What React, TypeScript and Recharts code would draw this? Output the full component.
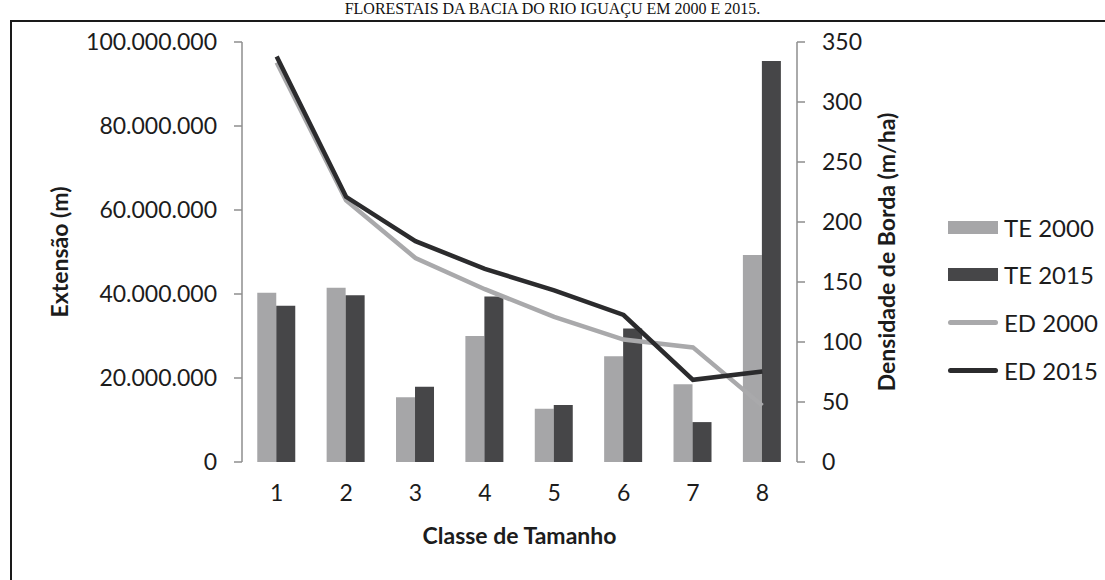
import React from "react";
import {
  ComposedChart, Bar, Line, XAxis, YAxis,
} from "recharts";

const classes = ["1", "2", "3", "4", "5", "6", "7", "8"];
const te2000 = [40300000, 41500000, 15400000, 30000000, 12700000, 25200000, 18500000, 49300000];
const te2015 = [37200000, 39700000, 17900000, 39400000, 13600000, 31800000, 9500000, 95500000];
const ed2000 = [333, 218, 170, 144, 121, 102, 95.5, 47];
const ed2015 = [338, 221, 184, 161, 143, 122.5, 68.5, 75.5];

const leftTicks = [0, 20000000, 40000000, 60000000, 80000000, 100000000];
const rightTicks = [0, 50, 100, 150, 200, 250, 300, 350];
const boundaryTicks = [0, 1, 2, 3, 4, 5, 6, 7, 8];

const LIGHT = "#a6a6a8";
const DARK = "#464648";
const LINE_LIGHT = "#a9a9ab";
const LINE_DARK = "#2b2b2d";
const AXIS = "#8e8e8e";
const FONT = "Lato, 'Open Sans', sans-serif";

const data = classes.map((c, i) => ({
  name: c,
  te2000: te2000[i],
  te2015: te2015[i],
  ed2000: ed2000[i],
  ed2015: ed2015[i],
}));

const fmt = (n: number) => String(n).replace(/\B(?=(\d{3})+(?!\d))/g, ".");

const legendItems = [
  { label: "TE 2000", color: LIGHT, kind: "bar" },
  { label: "TE 2015", color: DARK, kind: "bar" },
  { label: "ED 2000", color: LINE_LIGHT, kind: "line" },
  { label: "ED 2015", color: LINE_DARK, kind: "line" },
];

export default function App() {
  const tick = { fontSize: 23, fill: "#1c1c1c", fontFamily: FONT };
  const title = { fontSize: 23, fontWeight: 700, fill: "#1c1c1c", fontFamily: FONT };

  return (
    <div style={{ position: "absolute", left: 0, top: 0, width: 1105, height: 580, overflow: "hidden", background: "#fff" }}>
      <div
        style={{
          position: "absolute", left: 0, top: 1, width: 1105, textAlign: "center",
          fontFamily: "'Liberation Serif', serif", fontSize: 16, lineHeight: 1, color: "#111",
        }}
      >
        FLORESTAIS DA BACIA DO RIO IGUAÇU EM 2000 E 2015.
      </div>
      <div
        style={{
          position: "absolute", left: 10, top: 20, width: 1120, height: 600,
          border: "2px solid #1a1a1a", boxSizing: "border-box",
        }}
      />
      <div style={{ position: "absolute", left: 0, top: 0 }}>
        <ComposedChart
          width={1105}
          height={580}
          data={data}
          margin={{ top: 42, right: 208, bottom: 18, left: 40 }}
          barCategoryGap="22%"
          barGap={0}
          style={{ fontFamily: FONT }}
        >
          <XAxis
            xAxisId="grid"
            type="number"
            domain={[0, 8]}
            ticks={boundaryTicks}
            tick={false}
            height={0}
            tickSize={9}
            stroke={AXIS}
            axisLine={{ stroke: AXIS, strokeWidth: 1.5 }}
            tickLine={{ stroke: AXIS, strokeWidth: 1.5 }}
          />
          <XAxis
            xAxisId="cat"
            dataKey="name"
            height={100}
            axisLine={false}
            tickLine={false}
            tickSize={8}
            tickMargin={15}
            tick={tick}
            interval={0}
            label={{ value: "Classe de Tamanho", position: "insideBottom", offset: 18, style: title }}
          />
          <YAxis
            yAxisId="left"
            width={202}
            domain={[0, 100000000]}
            ticks={leftTicks}
            tickFormatter={fmt}
            tick={tick}
            tickSize={8}
            tickMargin={17}
            axisLine={{ stroke: AXIS, strokeWidth: 1.5 }}
            tickLine={{ stroke: AXIS, strokeWidth: 1.5 }}
            label={{ value: "Extensão (m)", angle: -90, position: "insideLeft", offset: 20, style: { ...title, textAnchor: "middle" } }}
          />
          <YAxis
            yAxisId="right"
            orientation="right"
            width={100}
            domain={[0, 350]}
            ticks={rightTicks}
            tick={tick}
            tickSize={8}
            tickMargin={17}
            axisLine={{ stroke: AXIS, strokeWidth: 1.5 }}
            tickLine={{ stroke: AXIS, strokeWidth: 1.5 }}
            label={{ value: "Densidade de Borda (m/ha)", angle: -90, position: "insideRight", offset: 10, style: { ...title, textAnchor: "middle" } }}
          />
          <Bar xAxisId="cat" yAxisId="left" dataKey="te2000" fill={LIGHT} isAnimationActive={false} />
          <Bar xAxisId="cat" yAxisId="left" dataKey="te2015" fill={DARK} isAnimationActive={false} />
          <Line xAxisId="cat" yAxisId="right" dataKey="ed2000" stroke={LINE_LIGHT} strokeWidth={4.5} dot={false} type="linear" isAnimationActive={false} />
          <Line xAxisId="cat" yAxisId="right" dataKey="ed2015" stroke={LINE_DARK} strokeWidth={4.5} dot={false} type="linear" isAnimationActive={false} />
        </ComposedChart>
      </div>
      {legendItems.map((it, i) => (
        <div
          key={it.label}
          style={{
            position: "absolute", left: 948, top: 227 + i * 47.7 - 15, height: 30,
            display: "flex", alignItems: "center", fontFamily: FONT, fontSize: 24, color: "#1c1c1c",
          }}
        >
          <span
            style={{
              display: "inline-block", width: 50, height: it.kind === "bar" ? 13 : 5,
              borderRadius: it.kind === "bar" ? 0 : 3, background: it.color, marginRight: 6,
            }}
          />
          {it.label}
        </div>
      ))}
    </div>
  );
}
